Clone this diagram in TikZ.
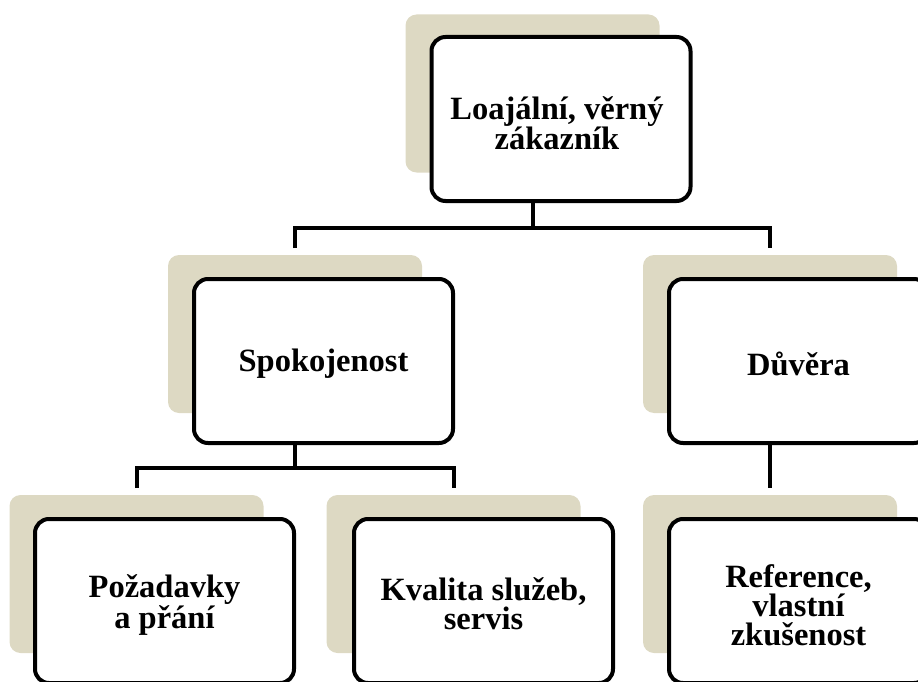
\documentclass[tikz,border=0pt]{standalone}
\usepackage{fontspec}
\setmainfont{Liberation Serif}
\definecolor{shade}{RGB}{221,217,195}
\tikzset{
  shadowbox/.style={fill=shade, rounded corners=11pt, minimum width=254pt, minimum height=158pt, inner sep=0pt, draw=none},
  mainbox/.style={draw=black, fill=white, line width=4pt, rounded corners=14pt, minimum width=259pt, minimum height=164pt, inner sep=0pt},
  boxtext/.style={align=center, inner sep=0pt, font=\fontsize{32.5}{29}\selectfont\bfseries},
  conn/.style={draw=black, line width=4pt}
}
\begin{document}
\begin{tikzpicture}[x=1pt,y=-1pt]
\useasboundingbox (0,0) rectangle (918,682);
\clip (0,0) rectangle (918,682);
% shadows
\node[shadowbox] (s0) at (532.5,93.5) {};
\node[shadowbox] (s1) at (295,334) {};
\node[shadowbox] (s2) at (770,334) {};
\node[shadowbox] (s3) at (136.5,574) {};
\node[shadowbox] (s4) at (453.5,574) {};
\node[shadowbox] (s5) at (770,574) {};
% boxes
\node[mainbox] (b0) at (561,119) {};
\node[mainbox] (b1) at (323.5,361) {};
\node[mainbox] (b2) at (798.5,361) {};
\node[mainbox] (b3) at (164.5,601) {};
\node[mainbox] (b4) at (483.5,601) {};
\node[mainbox] (b5) at (798.5,601) {};
% texts
\node[boxtext] (t0) at ([xshift=-4pt,yshift=-4pt]b0.center) {Loajální, věrný\\zákazník};
\node[boxtext] (t1) at ([yshift=-3pt]b1.center) {Spokojenost};
\node[boxtext] (t2) at ([yshift=-3pt]b2.center) {Důvěra};
\node[boxtext] (t3) at ([yshift=-4pt]b3.center) {Požadavky\\a přání};
\node[boxtext] (t4) at ([yshift=-3pt]b4.center) {Kvalita služeb,\\servis};
\node[boxtext] (t5) at ([yshift=-4pt]b5.center) {Reference,\\vlastní\\zkušenost};
% connector coordinates
\coordinate (j0) at (532.5,228);
\coordinate (e1) at (295,248);
\coordinate (e2) at (770,248);
\coordinate (j1) at (295,468);
\coordinate (e3) at (136.5,488);
\coordinate (e4) at (453.5,488);
\coordinate (e5) at (770,488);
% connectors
\draw[conn] (s0 |- b0.south) -- (j0);
\draw[conn] (e1) |- (j0) -| (e2);
\draw[conn] (s1 |- b1.south) -- (j1);
\draw[conn] (e3) |- (j1) -| (e4);
\draw[conn] (s2 |- b2.south) -- (e5);
\end{tikzpicture}
\end{document}
